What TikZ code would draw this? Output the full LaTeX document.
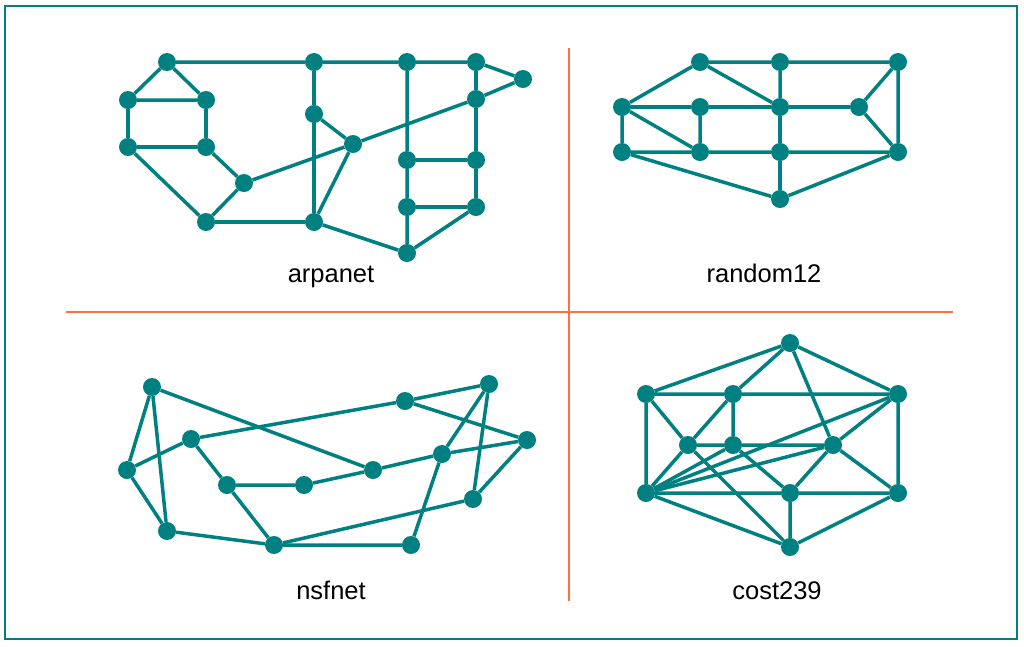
\documentclass[tikz,border=0pt]{standalone}
\usepackage{fontspec}
\setmainfont{Liberation Sans}
\definecolor{netteal}{RGB}{0,128,128}
\definecolor{divorange}{RGB}{255,112,67}

\begin{document}
\begin{tikzpicture}[
            x = 1pt, y = -1pt, % pixel grid, y downwards
            router/.style = {circle, fill=netteal, inner sep=0pt, minimum size=18pt}, % network node
            link/.style = {draw=netteal, line width=3.5pt}, % network edge
            divider/.style = {draw=divorange, line width=1.5pt},
            caption/.style = {anchor=base, font=\fontsize{25.5}{30}\selectfont}
        ]
	\useasboundingbox (0,0) rectangle (1024,646);
	\draw[netteal, line width=2.5pt] (5,6) rectangle (1017,639);
	\draw[divider] (66,312) -- (953,312);
	\draw[divider] (569,48) -- (569,601);

	% arpanet
	\node[router] (a1) at (167,62) {};
	\node[router] (a2) at (128,100) {};
	\node[router] (a3) at (206,100) {};
	\node[router] (a4) at (128,147) {};
	\node[router] (a5) at (206,147) {};
	\node[router] (a6) at (244,183) {};
	\node[router] (a7) at (206,222) {};
	\node[router] (a8) at (314,62) {};
	\node[router] (a9) at (314,114) {};
	\node[router] (a10) at (353,144) {};
	\node[router] (a11) at (314,222) {};
	\node[router] (a12) at (407,62) {};
	\node[router] (a13) at (476,62) {};
	\node[router] (a14) at (523,79) {};
	\node[router] (a15) at (476,99) {};
	\node[router] (a16) at (407,160) {};
	\node[router] (a17) at (476,160) {};
	\node[router] (a18) at (407,207) {};
	\node[router] (a19) at (476,207) {};
	\node[router] (a20) at (407,253) {};
	\node[caption] (arpa) at (331,282) {arpanet};

	\draw[link] (a1) -- (a8) -- (a12) -- (a13) -- (a14);
	\draw[link] (a1) -- (a2) -- (a3) -- (a1);
	\draw[link] (a2) -- (a4) -- (a5) -- (a3);
	\draw[link] (a4) -- (a7) -- (a6) -- (a5);
	\draw[link] (a7) -- (a11) -- (a9) -- (a8);
	\draw[link] (a6) -- (a10) -- (a15) -- (a14);
	\draw[link] (a9) -- (a10) -- (a11) -- (a20);
	\draw[link] (a12) -- (a16) -- (a18) -- (a20) -- (a19);
	\draw[link] (a13) -- (a15) -- (a17) -- (a19) -- (a18);
	\draw[link] (a16) -- (a17);

	% random12
	\node[router] (r1) at (700,62) {};
	\node[router] (r2) at (780,62) {};
	\node[router] (r3) at (898,62) {};
	\node[router] (r4) at (622,107) {};
	\node[router] (r5) at (700,107) {};
	\node[router] (r6) at (780,107) {};
	\node[router] (r7) at (859,107) {};
	\node[router] (r8) at (622,152) {};
	\node[router] (r9) at (700,152) {};
	\node[router] (r10) at (780,152) {};
	\node[router] (r11) at (898,152) {};
	\node[router] (r12) at (780,199) {};
	\node[caption] (rand) at (764,282) {random12};

	\draw[link] (r4) -- (r1) -- (r2) -- (r3) -- (r7) -- (r11) -- (r3);
	\draw[link] (r1) -- (r6) -- (r2);
	\draw[link] (r4) -- (r5) -- (r6) -- (r7);
	\draw[link] (r4) -- (r8) -- (r9) -- (r10) -- (r11) -- (r12) -- (r8);
	\draw[link] (r4) -- (r9) -- (r5);
	\draw[link] (r6) -- (r10) -- (r12);

	% nsfnet
	\node[router] (n1) at (152,387) {};
	\node[router] (n2) at (127,470) {};
	\node[router] (n3) at (191,439) {};
	\node[router] (n4) at (167,531) {};
	\node[router] (n5) at (227,485) {};
	\node[router] (n6) at (304,485) {};
	\node[router] (n7) at (373,470) {};
	\node[router] (n8) at (274,545) {};
	\node[router] (n9) at (405,401) {};
	\node[router] (n10) at (489,384) {};
	\node[router] (n11) at (527,440) {};
	\node[router] (n12) at (442,454) {};
	\node[router] (n13) at (473,499) {};
	\node[router] (n14) at (411,545) {};
	\node[caption] (nsf) at (331,599) {nsfnet};

	\draw[link] (n4) -- (n1) -- (n2) -- (n4) -- (n8) -- (n14) -- (n12) -- (n10) -- (n13) -- (n11) -- (n12) -- (n7);
	\draw[link] (n1) -- (n7) -- (n6) -- (n5) -- (n3) -- (n2);
	\draw[link] (n3) -- (n9) -- (n10);
	\draw[link] (n9) -- (n11);
	\draw[link] (n5) -- (n8) -- (n13);

	% cost239
	\node[router] (c1) at (790,343) {};
	\node[router] (c2) at (646,394) {};
	\node[router] (c3) at (733,394) {};
	\node[router] (c4) at (898,394) {};
	\node[router] (c5) at (688,445) {};
	\node[router] (c6) at (733,445) {};
	\node[router] (c7) at (833,445) {};
	\node[router] (c8) at (646,493) {};
	\node[router] (c9) at (790,493) {};
	\node[router] (c10) at (898,493) {};
	\node[router] (c11) at (790,547) {};
	\node[caption] (cost) at (777,599) {cost239};

	\draw[link] (c2) -- (c1) -- (c3) -- (c2) -- (c8) -- (c9) -- (c10) -- (c4) -- (c1) -- (c7);
	\draw[link] (c3) -- (c4) -- (c7) -- (c10) -- (c11) -- (c8);
	\draw[link] (c2) -- (c5) -- (c3) -- (c6);
	\draw[link] (c5) -- (c8) -- (c6) -- (c9) -- (c11);
	\draw[link] (c5) -- (c6) -- (c7) -- (c9);
	\draw[link] (c5) -- (c11);
	\draw[link] (c8) -- (c4);
	\draw[link] (c8) -- (c7);
\end{tikzpicture}
\end{document}
